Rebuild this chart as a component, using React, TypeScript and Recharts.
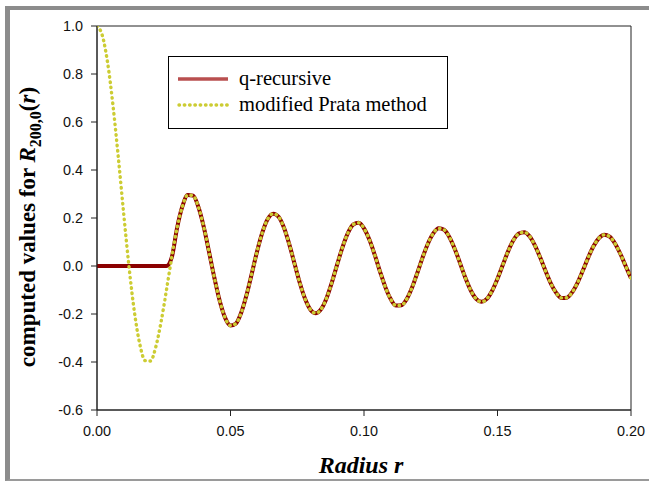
import React from "react";
import {
  LineChart,
  Line,
  XAxis,
  YAxis,
  Legend,
  ReferenceArea,
} from "recharts";

// sample radii (step 0.002)
const radius = [
  0.0, 0.002, 0.004, 0.006, 0.008, 0.01, 0.012, 0.014, 0.016, 0.018,
  0.02, 0.022, 0.024, 0.026, 0.028, 0.03, 0.032, 0.034, 0.036, 0.038,
  0.04, 0.042, 0.044, 0.046, 0.048, 0.05, 0.052, 0.054, 0.056, 0.058,
  0.06, 0.062, 0.064, 0.066, 0.068, 0.07, 0.072, 0.074, 0.076, 0.078,
  0.08, 0.082, 0.084, 0.086, 0.088, 0.09, 0.092, 0.094, 0.096, 0.098,
  0.1, 0.102, 0.104, 0.106, 0.108, 0.11, 0.112, 0.114, 0.116, 0.118,
  0.12, 0.122, 0.124, 0.126, 0.128, 0.13, 0.132, 0.134, 0.136, 0.138,
  0.14, 0.142, 0.144, 0.146, 0.148, 0.15, 0.152, 0.154, 0.156, 0.158,
  0.16, 0.162, 0.164, 0.166, 0.168, 0.17, 0.172, 0.174, 0.176, 0.178,
  0.18, 0.182, 0.184, 0.186, 0.188, 0.19, 0.192, 0.194, 0.196, 0.198,
  0.2,
];

const prata = [
  1.0, 0.96, 0.845, 0.668, 0.451, 0.218, -0.004, -0.191, -0.324, -0.394,
  -0.396, -0.338, -0.233, -0.101, 0.036, 0.159, 0.249, 0.296, 0.293, 0.245,
  0.162, 0.057, -0.051, -0.147, -0.216, -0.248, -0.24, -0.195, -0.121, -0.03,
  0.063, 0.142, 0.197, 0.218, 0.205, 0.16, 0.091, 0.009, -0.072, -0.139,
  -0.183, -0.197, -0.179, -0.133, -0.067, 0.008, 0.08, 0.138, 0.173, 0.18,
  0.157, 0.11, 0.047, -0.023, -0.088, -0.138, -0.165, -0.164, -0.138, -0.09,
  -0.028, 0.037, 0.095, 0.137, 0.157, 0.151, 0.12, 0.071, 0.011, -0.05,
  -0.102, -0.137, -0.149, -0.137, -0.103, -0.053, 0.005, 0.062, 0.108, 0.135,
  0.141, 0.124, 0.086, 0.035, -0.021, -0.073, -0.112, -0.133, -0.132, -0.109,
  -0.069, -0.018, 0.036, 0.083, 0.116, 0.13, 0.122, 0.094, 0.051, 0.0,
  -0.051,
];

const qRecursive = [
  0, 0, 0, 0, 0, 0, 0, 0, 0, 0,
  0, 0, 0, 0, 0.036, 0.159, 0.249, 0.296, 0.293, 0.245,
  0.162, 0.057, -0.051, -0.147, -0.216, -0.248, -0.24, -0.195, -0.121, -0.03,
  0.063, 0.142, 0.197, 0.218, 0.205, 0.16, 0.091, 0.009, -0.072, -0.139,
  -0.183, -0.197, -0.179, -0.133, -0.067, 0.008, 0.08, 0.138, 0.173, 0.18,
  0.157, 0.11, 0.047, -0.023, -0.088, -0.138, -0.165, -0.164, -0.138, -0.09,
  -0.028, 0.037, 0.095, 0.137, 0.157, 0.151, 0.12, 0.071, 0.011, -0.05,
  -0.102, -0.137, -0.149, -0.137, -0.103, -0.053, 0.005, 0.062, 0.108, 0.135,
  0.141, 0.124, 0.086, 0.035, -0.021, -0.073, -0.112, -0.133, -0.132, -0.109,
  -0.069, -0.018, 0.036, 0.083, 0.116, 0.13, 0.122, 0.094, 0.051, 0.0,
  -0.051,
];

const xTicks = [0, 0.05, 0.1, 0.15, 0.2];
const yTicks = [-0.6, -0.4, -0.2, 0, 0.2, 0.4, 0.6, 0.8, 1.0];

const seriesNames = ["q-recursive", "modified Prata method"];

const RED = "#8B0000";
const YELLOW = "#CCCC33";

const rows = radius.map((r, i) => ({ r, q: qRecursive[i], p: prata[i] }));

const serif = '"Liberation Serif", "Times New Roman", serif';
const sans = '"Liberation Sans", Arial, sans-serif';

function ChartLegend() {
  return (
    <div
      style={{
        width: 280,
        height: 73,
        boxSizing: "border-box",
        border: "1px solid #000",
        background: "#fff",
        position: "relative",
        fontFamily: serif,
        fontSize: 20.5,
        color: "#000",
        textAlign: "left",
      }}
    >
      <svg
        width={60}
        height={70}
        style={{ position: "absolute", left: 0, top: 0 }}
      >
        <line x1={9} y1={22} x2={59} y2={22} stroke="#b94f4f" strokeWidth={3.5} />
        <line
          x1={10}
          y1={48}
          x2={59}
          y2={48}
          stroke={YELLOW}
          strokeWidth={3.4}
          strokeDasharray="0.5 4.8"
          strokeLinecap="round"
        />
      </svg>
      <div style={{ position: "absolute", left: 70, top: 8, lineHeight: "26px" }}>
        {seriesNames[0]}
      </div>
      <div style={{ position: "absolute", left: 70, top: 34, lineHeight: "26px" }}>
        {seriesNames[1]}
      </div>
    </div>
  );
}

export default function App() {
  return (
    <div
      style={{
        position: "absolute",
        left: 0,
        top: 0,
        width: 649,
        height: 482,
        background: "#fff",
        overflow: "hidden",
      }}
    >
      <div
        style={{
          position: "absolute",
          left: 5,
          top: 6,
          width: 644,
          height: 475,
          boxSizing: "border-box",
          borderTop: "4px solid #8c8c8c",
          borderLeft: "5px solid #8c8c8c",
          borderBottom: "2px solid #9a9a9a",
        }}
      />
      <LineChart
        width={649}
        height={482}
        data={rows}
        margin={{ top: 26, right: 18, bottom: 42, left: 37 }}
        style={{ position: "absolute", left: 0, top: 0 }}
      >
        <ReferenceArea
          x1={0}
          x2={0.2}
          y1={-0.6}
          y2={1.0}
          fill="none"
          stroke="#222"
          strokeWidth={1}
        />
        <XAxis
          type="number"
          dataKey="r"
          domain={[0, 0.2]}
          ticks={xTicks}
          tickFormatter={(v: number) => v.toFixed(2)}
          height={30}
          tickSize={6}
          tickMargin={10}
          stroke="#222"
          tick={{ fill: "#111", fontSize: 14.4, fontFamily: sans }}
          allowDataOverflow
        />
        <YAxis
          type="number"
          domain={[-0.6, 1.0]}
          ticks={yTicks}
          tickFormatter={(v: number) => v.toFixed(1)}
          width={60}
          tickSize={6}
          tickMargin={8}
          stroke="#222"
          tick={{ fill: "#111", fontSize: 14.4, fontFamily: sans }}
          allowDataOverflow
        />
        <Legend
          layout="horizontal"
          verticalAlign="middle"
          align="center"
          content={() => <ChartLegend />}
          wrapperStyle={{ left: 168, top: 56, width: 280, height: 73 }}
        />
        <Line
          type="monotone"
          dataKey="q"
          name={seriesNames[0]}
          stroke={RED}
          strokeWidth={4}
          dot={false}
          isAnimationActive={false}
        />
        <Line
          type="monotone"
          dataKey="p"
          name={seriesNames[1]}
          stroke={YELLOW}
          strokeWidth={3.4}
          strokeDasharray="0.5 4.8"
          strokeLinecap="round"
          dot={false}
          isAnimationActive={false}
        />
      </LineChart>
      <div
        style={{
          position: "absolute",
          left: 32,
          top: 227,
          transform: "translate(-50%, -50%) rotate(-90deg)",
          whiteSpace: "nowrap",
          fontFamily: serif,
          fontWeight: "bold",
          fontSize: 23,
          color: "#000",
          lineHeight: "26px",
        }}
      >
        computed values for <i>R</i>
        <sub style={{ fontSize: 16 }}>200,0</sub>(<i>r</i>)
      </div>
      <div
        style={{
          position: "absolute",
          left: 361,
          top: 465,
          transform: "translate(-50%, -50%)",
          whiteSpace: "nowrap",
          fontFamily: serif,
          fontWeight: "bold",
          fontStyle: "italic",
          fontSize: 24,
          color: "#000",
          lineHeight: "26px",
        }}
      >
        Radius r
      </div>
    </div>
  );
}
